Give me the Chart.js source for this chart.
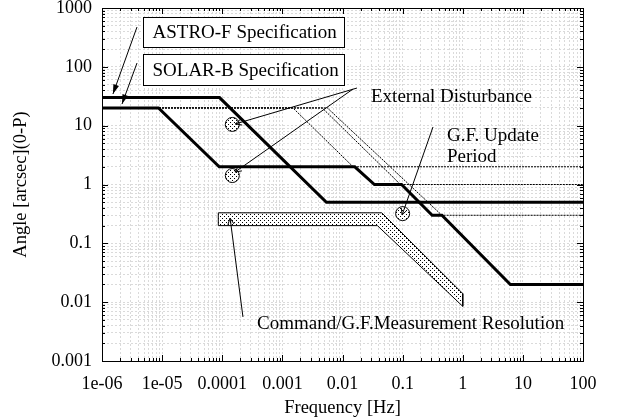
<!DOCTYPE html>
<html lang="en">
<head>
<meta charset="UTF-8">
<title>Angle vs Frequency</title>
<script src="https://cdn.jsdelivr.net/npm/chart.js"></script>
<style>
  html, body { margin: 0; padding: 0; background: #fff; }
  .chart-container { width: 622px; height: 419px; }
</style>
</head>
<body>
<div class="chart-container"><canvas id="specChart" width="622" height="419"></canvas></div>
<script>
// frequency [Hz] / angle [arcsec]
const astroF_f = [1e-6, 9e-5, 5.4e-3, 100];
const astroF_a = [30, 30, 0.5, 0.5];
const solarB_f = [1e-6, 8.7e-6, 8.9e-5, 0.016, 0.034, 0.096, 0.31, 0.45, 6.2, 100];
const solarB_a = [20, 20, 2, 2, 1, 1, 0.3, 0.3, 0.02, 0.02];
const dist1_f = [1e-6, 1.5e-3, 0.015, 100];
const dist1_a = [20, 20, 2, 2];
const dist2_f = [1e-6, 4.6e-3, 0.092, 100];
const dist2_a = [20, 20, 1, 1];
const dist3_f = [1e-6, 5.6e-3, 0.45, 100];
const dist3_a = [20, 20, 0.3, 0.3];
// command / G.F. measurement resolution band (closed outline)
const resol_f = [8.6e-5, 0.045, 1.0, 1.0, 0.038, 8.6e-5, 8.6e-5];
const resol_a = [0.33, 0.33, 0.014, 0.0085, 0.2, 0.2, 0.33];
// circled marks
const disturbMark_f = [1.47e-4, 1.47e-4];
const disturbMark_a = [10.5, 1.42];
const updateMark_f = [0.1];
const updateMark_a = [0.32];

const xTickLabels = ['1e-06', '1e-05', '0.0001', '0.001', '0.01', '0.1', '1', '10', '100'];
const yTickLabels = ['0.001', '0.01', '0.1', '1', '10', '100', '1000'];

// annotations (data coordinates)
const boxes = [
    { text: 'ASTRO-F Specification', f1: 4.8e-6, f2: 1.06e-2, a1: 703, a2: 217 },
    { text: 'SOLAR-B Specification', f1: 4.8e-6, f2: 1.06e-2, a1: 165, a2: 49 }
];
const notes = [
    { text: 'External Disturbance', f: 0.0298, a: 30.7 },
    { text: 'G.F. Update', f: 0.547, a: 6.67 },
    { text: 'Period', f: 0.547, a: 2.93 },
    { text: 'Command/G.F.Measurement Resolution', f: 3.78e-4, a: 4.26e-3 }
];
const arrows = [
    { from: [3.82e-6, 475], to: [1.52e-6, 34.5], filled: true },
    { from: [3.82e-6, 116], to: [2.15e-6, 23.3], filled: true },
    { from: [0.0174, 43.6], to: [1.65e-4, 10.7], filled: false },
    { from: [0.0150, 42], to: [1.63e-4, 1.63], filled: false },
    { from: [0.32, 9.5], to: [0.098, 0.303], filled: false },
    { from: [2.21e-4, 5.6e-3], to: [1.35e-4, 0.269], filled: false }
];

const FONT = '"Liberation Serif", "Times New Roman", serif';
const pts = (fs, as) => fs.map((f, i) => ({ x: f, y: as[i] }));

// stipple fill
function stipple() {
    const c = document.createElement('canvas');
    c.width = 4; c.height = 4;
    const g = c.getContext('2d');
    g.fillStyle = '#fff';
    g.fillRect(0, 0, 4, 4);
    g.fillStyle = '#000';
    g.fillRect(0, 0, 1, 1);
    g.fillRect(2, 2, 1, 1);
    return g.createPattern(c, 'repeat');
}
const dots = stipple();

function decadeTicks(lo, hi) {
    const t = [];
    for (let e = lo; e <= hi; e++) {
        for (let s = 1; s <= 9; s++) {
            if (e === hi && s > 1) break;
            t.push({ value: s * Math.pow(10, e) });
        }
    }
    return t;
}
const isDecade = v => Math.abs(Math.log10(v) - Math.round(Math.log10(v))) < 1e-9;

const framePlugin = {
    id: 'frame',
    beforeDatasetsDraw(chart) {
        const { ctx, chartArea: a, scales } = chart;
        ctx.save();
        ctx.strokeStyle = '#000';
        ctx.lineWidth = 1;
        ctx.beginPath();
        scales.x.ticks.forEach(t => {
            const px = Math.round(scales.x.getPixelForValue(t.value)) + 0.5;
            const len = isDecade(t.value) ? 6 : 3;
            ctx.moveTo(px, a.bottom); ctx.lineTo(px, a.bottom - len);
            ctx.moveTo(px, a.top); ctx.lineTo(px, a.top + len);
        });
        scales.y.ticks.forEach(t => {
            const py = Math.round(scales.y.getPixelForValue(t.value)) + 0.5;
            const len = isDecade(t.value) ? 6 : 3;
            ctx.moveTo(a.left, py); ctx.lineTo(a.left + len, py);
            ctx.moveTo(a.right, py); ctx.lineTo(a.right - len, py);
        });
        ctx.stroke();
        ctx.strokeRect(a.left + 0.5, a.top + 0.5, a.right - a.left, a.bottom - a.top);
        ctx.restore();
    }
};

const notePlugin = {
    id: 'notes',
    afterDatasetsDraw(chart) {
        const { ctx, scales } = chart;
        const X = v => scales.x.getPixelForValue(v);
        const Y = v => scales.y.getPixelForValue(v);
        ctx.save();
        ctx.font = '19px ' + FONT;
        ctx.textBaseline = 'middle';
        ctx.fillStyle = '#000';

        boxes.forEach(b => {
            const x1 = Math.round(X(b.f1)) + 0.5, x2 = Math.round(X(b.f2)) + 0.5;
            const y1 = Math.round(Y(b.a1)) + 0.5, y2 = Math.round(Y(b.a2)) + 0.5;
            ctx.fillStyle = '#fff';
            ctx.fillRect(x1, y1, x2 - x1, y2 - y1);
            ctx.strokeStyle = '#000';
            ctx.lineWidth = 1;
            ctx.strokeRect(x1, y1, x2 - x1, y2 - y1);
            ctx.fillStyle = '#000';
            ctx.fillText(b.text, x1 + 9, (y1 + y2) / 2 + 1);
        });

        notes.forEach(n => ctx.fillText(n.text, X(n.f), Y(n.a)));

        ctx.strokeStyle = '#000';
        ctx.lineWidth = 1;
        arrows.forEach(ar => {
            const x0 = X(ar.from[0]), y0 = Y(ar.from[1]);
            const x1 = X(ar.to[0]), y1 = Y(ar.to[1]);
            const ang = Math.atan2(y1 - y0, x1 - x0);
            ctx.beginPath();
            ctx.moveTo(x0, y0);
            ctx.lineTo(x1, y1);
            ctx.stroke();
            const L = ar.filled ? 10 : 7, w = ar.filled ? 0.3 : 0.45;
            const ax = x1 - L * Math.cos(ang - w), ay = y1 - L * Math.sin(ang - w);
            const bx = x1 - L * Math.cos(ang + w), by = y1 - L * Math.sin(ang + w);
            ctx.beginPath();
            if (ar.filled) {
                ctx.moveTo(x1, y1); ctx.lineTo(ax, ay); ctx.lineTo(bx, by); ctx.closePath();
                ctx.fill();
            } else {
                ctx.moveTo(ax, ay); ctx.lineTo(x1, y1); ctx.lineTo(bx, by);
                ctx.stroke();
            }
        });
        ctx.restore();
    }
};

const lineSet = (label, fs, as, width, dash) => ({
    label: label,
    data: pts(fs, as),
    showLine: true,
    borderColor: '#000',
    borderWidth: width,
    borderDash: dash || [],
    pointRadius: 0,
    tension: 0,
    fill: false
});

const ctx = document.getElementById('specChart').getContext('2d');
const specChart = new Chart(ctx, {
    type: 'scatter',
    data: {
        datasets: [
            {
                label: 'Disturbance marks',
                data: pts(disturbMark_f, disturbMark_a),
                pointRadius: 7,
                pointBackgroundColor: dots,
                pointBorderColor: '#000',
                pointBorderWidth: 1
            },
            {
                label: 'Update mark',
                data: pts(updateMark_f, updateMark_a),
                pointRadius: 7,
                pointBackgroundColor: dots,
                pointBorderColor: '#000',
                pointBorderWidth: 1
            },
            lineSet('ASTRO-F Specification', astroF_f, astroF_a, 3),
            lineSet('SOLAR-B Specification', solarB_f, solarB_a, 3),
            {
                label: 'Command/G.F.Measurement Resolution',
                data: pts(resol_f, resol_a),
                showLine: true,
                borderColor: '#000',
                borderWidth: 1,
                backgroundColor: dots,
                pointRadius: 0,
                tension: 0,
                fill: 'shape'
            },
            lineSet('Disturbance 1', dist1_f, dist1_a, 1, [2, 1]),
            lineSet('Disturbance 2', dist2_f, dist2_a, 1, [2, 1]),
            lineSet('Disturbance 3', dist3_f, dist3_a, 1, [2, 1])
        ]
    },
    options: {
        responsive: false,
        maintainAspectRatio: false,
        animation: false,
        events: [],
        layout: { padding: { left: 0, right: 39, top: 8, bottom: 0 } },
        plugins: { legend: { display: false }, tooltip: { enabled: false } },
        scales: {
            x: {
                type: 'logarithmic',
                min: 1e-6,
                max: 100,
                afterBuildTicks: s => { s.ticks = decadeTicks(-6, 2); },
                afterFit: s => { s.height = 58; s.paddingLeft = 0; s.paddingRight = 0; },
                grid: { color: '#dadada', lineWidth: 1, drawTicks: false },
                border: { color: '#000', width: 1, dash: [2, 2] },
                ticks: {
                    autoSkip: false,
                    maxRotation: 0,
                    padding: 12,
                    color: '#000',
                    font: { family: FONT, size: 18 },
                    callback: v => isDecade(v) ? xTickLabels[Math.round(Math.log10(v)) + 6] : ''
                },
                title: {
                    display: true,
                    text: 'Frequency [Hz]',
                    color: '#000',
                    font: { family: FONT, size: 18.5 },
                    padding: { top: 0, bottom: 0 }
                }
            },
            y: {
                type: 'logarithmic',
                min: 0.001,
                max: 1000,
                afterBuildTicks: s => { s.ticks = decadeTicks(-3, 3); },
                afterFit: s => { s.width = 102; s.paddingTop = 0; s.paddingBottom = 0; },
                grid: { color: '#dadada', lineWidth: 1, drawTicks: false },
                border: { color: '#000', width: 1, dash: [2, 2] },
                ticks: {
                    autoSkip: false,
                    padding: 10,
                    color: '#000',
                    font: { family: FONT, size: 18 },
                    callback: v => isDecade(v) ? yTickLabels[Math.round(Math.log10(v)) + 3] : ''
                },
                title: {
                    display: true,
                    text: 'Angle [arcsec](0-P)',
                    color: '#000',
                    font: { family: FONT, size: 18.5 },
                    padding: { top: 10, bottom: 0 }
                }
            }
        }
    },
    plugins: [framePlugin, notePlugin]
});
</script>
</body>
</html>
